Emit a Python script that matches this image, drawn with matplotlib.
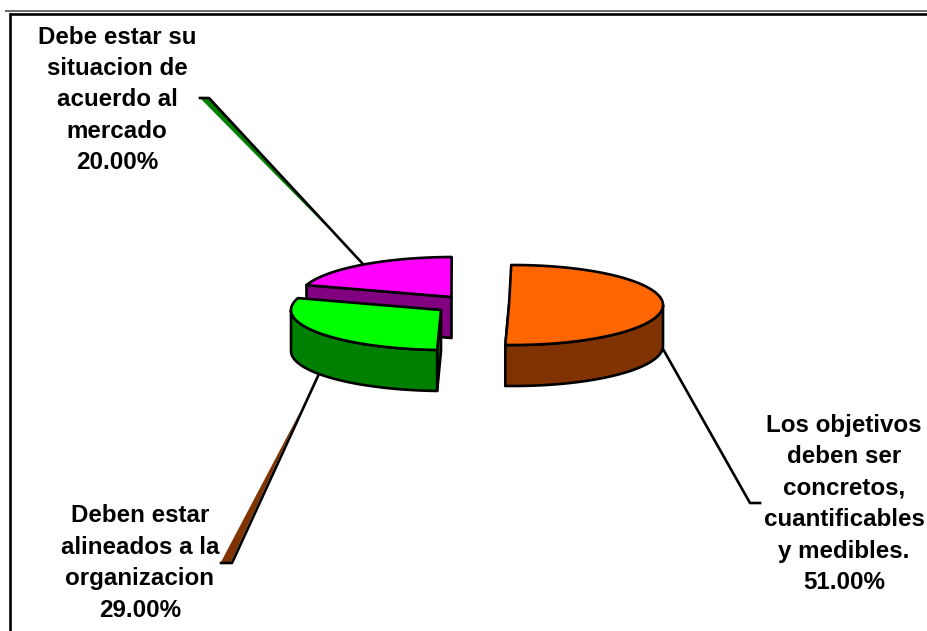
import numpy as np
import matplotlib
matplotlib.use("Agg")
import matplotlib.pyplot as plt
from matplotlib.patches import Polygon

# datos
categories = ["Los objetivos\ndeben ser\nconcretos,\ncuantificables\ny medibles.",
              "Deben estar\nalineados a la\norganizacion",
              "Debe estar su\nsituacion de\nacuerdo al\nmercado"]
values = [51.0, 29.0, 20.0]
top_colors = ["#FF6600", "#00FF00", "#FF00FF"]
side_colors = ["#803300", "#008000", "#800080"]

# posicion de cada porcion (pie separado), en pixeles
centers = [(513, 305), (445, 310), (453.5, 297)]
radii_x = [150, 154, 154]
apex_shift = [-4, -4, -2]
radius_y = 40
depth = 41
rotation = -0.68
label_pos = [(844, 504), (140, 563), (117, 100)]
draw_order = [2, 1, 0]
lw = 1.9

fig = plt.figure(figsize=(9.28, 6.31), dpi=100)
ax = fig.add_axes([0, 0, 1, 1])
ax.set_xlim(0, 928)
ax.set_ylim(631, 0)
ax.axis("off")


def rim(cx, cy, rx, a0, a1):
    # angulos en sentido horario desde arriba
    t = np.radians(np.linspace(a0, a1, 120))
    return np.column_stack([cx + rx * np.sin(t), cy - radius_y * np.cos(t)])


def draw_slice(i, a0, a1, z):
    cx, cy = centers[i]
    rx = radii_x[i]
    apex = np.array([cx + apex_shift[i], cy])
    down = np.array([0, depth])

    # cara del corte
    if a1 < 270 or a0 > 180:
        p = rim(cx, cy, rx, a0, a0)[0] if a0 > 180 else rim(cx, cy, rx, a1, a1)[0]
        ax.add_patch(Polygon([apex, p, p + down, apex + down], closed=True,
                             fc=side_colors[i], ec="black", lw=lw, joinstyle="round", zorder=z))

    # pared del frente del borde
    w0, w1 = max(a0, 90), min(a1, 270)
    if w1 > w0:
        front = rim(cx, cy, rx, w0, w1)
        ax.add_patch(Polygon(np.vstack([front, (front + down)[::-1]]), closed=True,
                             fc=side_colors[i], ec="black", lw=lw, joinstyle="round", zorder=z))

    # cara superior
    ax.add_patch(Polygon(np.vstack([apex, rim(cx, cy, rx, a0, a1)]), closed=True,
                         fc=top_colors[i], ec="black", lw=lw, joinstyle="round", zorder=z))


# dibujar atras hacia adelante
edges = np.cumsum([0] + values) / sum(values) * 360 + rotation
for z, i in enumerate(draw_order):
    draw_slice(i, edges[i], edges[i + 1], z + 2)

# lineas guia
ax.plot([663, 750, 760], [349, 503, 503], color="black", lw=lw, zorder=1)
ax.plot([318, 232, 221], [376, 563, 563], color="black", lw=lw, zorder=1)
ax.plot([362, 209, 200], [263, 98, 98], color="black", lw=lw, zorder=1)
ax.add_patch(Polygon([(221, 562), (231, 562), (300, 412)], closed=True, fc=side_colors[0], ec="none", zorder=0.5))
ax.add_patch(Polygon([(200, 98), (209, 98), (328, 228)], closed=True, fc=side_colors[1], ec="none", zorder=0.5))

# etiquetas
for cat, val, (x, y) in zip(categories, values, label_pos):
    ax.text(x, y, f"{cat}\n{val:.2f}%", ha="center", va="center", ma="center",
            family="Liberation Sans", fontweight="bold", fontsize=17.4, linespacing=1.47,
            color="black", zorder=10)

# marco
ax.plot([5, 928], [10.5, 10.5], color="#404040", lw=1.1, solid_capstyle="butt")
ax.plot([9, 928], [13.5, 13.5], color="black", lw=1.9, solid_capstyle="butt")
ax.plot([10, 10], [13, 631], color="black", lw=1.9, solid_capstyle="butt")

fig.savefig("out.png", dpi=100)
